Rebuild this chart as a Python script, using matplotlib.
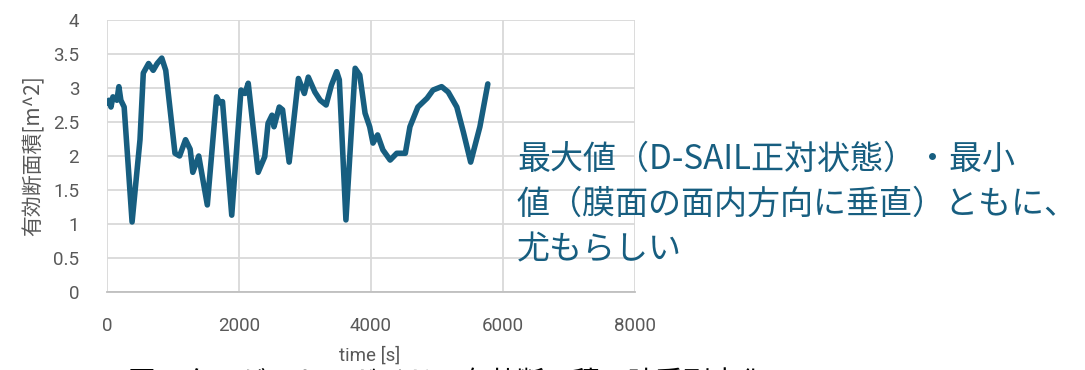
import numpy as np
import matplotlib
matplotlib.use('Agg')
import matplotlib.pyplot as plt

# 有効断面積の時系列データ
time_s = [0, 30, 60, 90, 150, 180, 210, 260, 380, 500, 550, 630, 700, 760, 830,
          890, 1030, 1100, 1190, 1260, 1300, 1390, 1520, 1660, 1710, 1750, 1890,
          2030, 2090, 2140, 2290, 2390, 2440, 2500, 2530, 2610, 2660, 2760, 2900,
          2990, 3050, 3150, 3230, 3320, 3400, 3480, 3520, 3620, 3760, 3830, 3910,
          3980, 4030, 4100, 4180, 4290, 4390, 4520, 4590, 4710, 4850, 4940, 5070,
          5170, 5300, 5400, 5510, 5650, 5770]
area_m2 = [2.78, 2.82, 2.72, 2.87, 2.82, 3.02, 2.82, 2.72, 1.03, 2.24, 3.22, 3.36,
           3.26, 3.36, 3.44, 3.26, 2.04, 2.00, 2.24, 2.10, 1.76, 2.00, 1.28, 2.87,
           2.78, 2.80, 1.13, 2.97, 2.92, 3.07, 1.76, 1.99, 2.48, 2.60, 2.43, 2.72,
           2.68, 1.91, 3.14, 2.92, 3.16, 2.94, 2.82, 2.75, 3.04, 3.24, 3.12, 1.06,
           3.29, 3.19, 2.63, 2.43, 2.19, 2.31, 2.09, 1.94, 2.04, 2.04, 2.43, 2.72,
           2.85, 2.97, 3.02, 2.94, 2.72, 2.35, 1.91, 2.43, 3.06]

x_ticks = [0, 2000, 4000, 6000, 8000]
y_ticks = [0, 0.5, 1, 1.5, 2, 2.5, 3, 3.5, 4]

note = '最大値（D-SAIL正対状態）・最小\n値（膜面の面内方向に垂直）ともに、\n尤もらしい'
caption = '図　ターゲット・ガイドの有効断面積の時系列変化'

line_color = '#175e80'
jp = ['Noto Sans CJK JP', 'DejaVu Sans']

fig = plt.figure(figsize=(10.85, 3.70), dpi=100)
ax = fig.add_axes([107 / 1085, 78 / 370, 528 / 1085, 272 / 370])

ax.plot(time_s, area_m2, color=line_color, linewidth=4.0, solid_joinstyle='round',
        solid_capstyle='round')

ax.set_xlim(0, 8000)
ax.set_ylim(0, 4)
ax.set_xticks(x_ticks)
ax.set_yticks(y_ticks)
ax.set_yticklabels([('%g' % v) for v in y_ticks])
ax.grid(True, color='#d9d9d9', linewidth=1.3)
ax.set_axisbelow(True)
for s in ['top', 'right', 'left']:
    ax.spines[s].set_visible(False)
ax.spines['bottom'].set_color('#bfbfbf')
ax.spines['bottom'].set_linewidth(1.3)
ax.tick_params(length=0, labelsize=13.5, labelcolor='#595959')
ax.tick_params(axis='y', pad=20)
ax.tick_params(axis='x', pad=18)
for lab in ax.get_xticklabels() + ax.get_yticklabels():
    lab.set_family('Roboto')

ax.set_ylabel('有効断面積[m^2]', family=jp, fontsize=15, color='#595959', labelpad=6)
fig.text(370 / 1085, 1 - 356 / 370, 'time [s]', family='Roboto', fontsize=13.5,
         color='#595959', ha='center', va='center')

fig.text(517 / 1085, 1 - 142 / 370, note, family=jp, fontsize=23.8, color=line_color,
         ha='left', va='top', linespacing=1.38)

# 下端で切れているキャプション
fig.text(128 / 1085, 1 - 369 / 370, caption, family=jp, fontsize=20, color='black',
         ha='left', va='top')

plt.savefig('out.png', dpi=100)
